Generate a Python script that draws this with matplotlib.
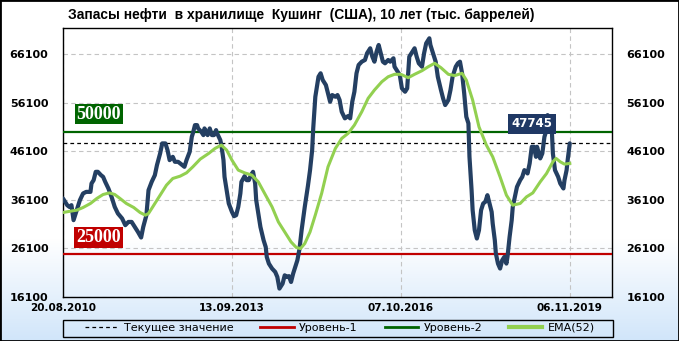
import numpy as np
import matplotlib
matplotlib.use("Agg")
import matplotlib.pyplot as plt
from matplotlib.lines import Line2D
from matplotlib.patches import Rectangle

# ---------------- data ----------------
title = "Запасы нефти  в хранилище  Кушинг  (США), 10 лет (тыс. баррелей)"
tick_weeks = [0, 160, 320, 480]
tick_dates = ["20.08.2010", "13.09.2013", "07.10.2016", "06.11.2019"]
y_ticks = [16100, 26100, 36100, 46100, 56100, 66100]

oil_weeks = [0,4,6,8,10,13,16,19,22,26,27,29,31,33,36,38,40,43,46,49,52,56,59,62,65,68,71,74,76,79,
             81,84,87,89,92,94,97,99,101,104,106,109,111,115,117,120,122,123,125,127,128,131,133,134,137,139,
             141,143,145,146,149,150,152,153,155,157,160,162,164,166,168,169,172,174,176,178,180,182,183,185,
             187,190,192,193,195,198,201,203,205,208,210,212,214,216,218,220,222,224,226,229,232,234,236,237,
             239,242,244,246,249,251,253,255,258,260,262,264,267,270,272,274,276,278,280,283,286,288,291,293,
             295,297,299,301,303,305,308,310,313,314,317,319,321,324,326,328,331,333,335,337,340,342,344,347,
             348,351,353,355,358,360,362,365,367,369,372,374,376,378,380,382,384,385,387,388,390,392,394,396,
             398,400,402,404,406,407,409,410,412,414,416,418,420,421,423,425,426,428,430,433,435,437,439,440,
             442,444,446,448,449,452,454,456,458,459,461,463,464,466,469,471,474,475,477,478,480]
oil_values = [36390,35010,34660,35010,31920,33980,36040,37420,37750,37750,39480,40160,41880,41880,41190,40840,
              39810,38450,36720,34660,33300,32270,30890,31560,31560,30530,29500,28350,30530,32950,
              38100,39810,41190,43260,45670,47730,47730,46350,44290,44970,43940,43940,43610,42910,44290,46000,
              49090,49790,51500,51500,50820,50120,49440,50820,49440,50820,
              49440,49440,50470,49800,48410,47380,44290,40840,38100,35360,33630,32740,32950,34660,37420,39810,
              40990,40160,40160,41190,41880,39480,36040,33300,
              30530,27790,26410,24350,22980,21960,21260,20230,17830,18860,20570,20230,20400,19190,20930,22290,
              23670,26000,29850,34660,39000,42230,46350,50800,
              57340,61460,62170,60780,59750,58040,56310,57690,57340,57690,56660,54250,52890,53360,52890,56310,
              58370,62170,63880,64560,64910,66290,67320,65590,
              64560,66620,68000,66290,64560,64230,64910,64560,65260,63530,62500,61810,59070,58370,59070,65590,
              66620,67320,65590,64230,63530,66290,68350,69380,
              68000,65940,64560,61460,58720,57010,55630,56660,58720,61460,63530,64230,64560,62170,58040,53220,
              51850,44970,38100,33980,29850,28140,29850,33980,
              35360,35690,37070,35360,33630,31230,27790,25050,22980,21960,23670,24350,22980,24350,28470,31920,
              34660,36720,38780,40160,40840,42230,41880,41540,
              43610,47030,47030,44970,47030,44640,45670,49090,50470,53560,53000,50470,45670,42230,40840,39480,
              38450,40160,42230,44290,47745]

ema_weeks = [0,7,13,19,26,32,38,44,49,54,60,67,73,78,81,85,92,98,104,111,117,123,130,138,144,150,155,160,
             166,172,179,185,191,198,204,210,216,221,225,229,234,239,245,251,258,264,270,276,283,289,295,302,
             308,314,320,327,333,340,346,352,358,365,371,378,382,388,394,401,407,414,420,426,433,439,445,452,
             458,464,467,471,475,480]
ema_values = [33500,33770,33980,34530,35360,36390,37210,37540,37210,36390,35360,34530,33500,32950,33300,34660,
              37070,39130,40510,40990,41670,42910,44500,45670,46700,47380,46350,44290,
              42230,41670,41190,39810,37420,34660,31560,29500,27440,26290,26080,27110,29500,33000,37450,42900,
              46700,48760,49790,51500,54250,57010,58720,60430,
              61460,61960,61960,61260,61960,62700,63530,64230,63320,61960,61700,62170,60780,56660,51150,47380,
              44970,40840,37070,35010,35360,36720,37540,39810,
              41540,43940,44640,43940,43460,43610]

current_value = 47745
level_1 = 25000
level_2 = 50000

# ---------------- figure ----------------
W, H = 679, 341
fig = plt.figure(figsize=(W / 100, H / 100), dpi=100)

# background gradient
bg = fig.add_axes([0, 0, 1, 1], zorder=-10)
rows = np.linspace(0, 1, H)
t = np.clip((rows - 0.70) / 0.30, 0, 1)[:, None]
top = np.array([1.0, 1.0, 1.0])
bot = np.array([0.82, 0.90, 0.98])
img = top[None, :] * (1 - t) + bot[None, :] * t
img = np.repeat(img[:, None, :], 4, axis=1)
bg.imshow(img, aspect="auto", extent=[0, 1, 0, 1], origin="upper")
bg.set_axis_off()

L, R, B, T = 63, 612, 297, 27.5
ax = fig.add_axes([L / W, 1 - B / H, (R - L) / W, (B - T) / H])
ax.set_facecolor("none")

ax.set_xlim(0, 520)
ax.set_ylim(16100, 71600)

ax.set_yticks(y_ticks)
ax.set_yticklabels([str(v) for v in y_ticks])
ax.set_xticks(tick_weeks)
ax.set_xticklabels(tick_dates)
ax.grid(True, color="#c4c4c4", linestyle=(0, (4, 3)), linewidth=0.8)
ax.set_axisbelow(True)

ax.tick_params(axis="y", left=False, right=False, labelleft=True, labelright=True,
               pad=7, labelsize=8)
ax.tick_params(axis="x", length=0, pad=4, labelsize=7.5)
for lab in ax.get_yticklabels() + ax.get_xticklabels():
    lab.set_fontweight("bold")
for sp in ax.spines.values():
    sp.set_color("black")
    sp.set_linewidth(1.0)

ax.axhline(level_1, color="#c00000", lw=1.6, zorder=3)
ax.axhline(level_2, color="#006400", lw=1.6, zorder=3)
ax.axhline(current_value, color="black", lw=0.9, ls=(0, (3, 2.5)), zorder=3)

ax.plot(oil_weeks, oil_values, color="#243f62", lw=3.0, solid_joinstyle="round",
        solid_capstyle="round", zorder=4)
ax.plot(ema_weeks, ema_values, color="#92d050", lw=2.2, solid_joinstyle="round", zorder=5)

# level boxes
ax.text(34, 53770, f"{level_2}", color="white", fontsize=13, fontweight="bold",
        family="Liberation Serif", ha="center", va="center", zorder=6,
        bbox=dict(boxstyle="square,pad=0.1", fc="#006400", ec="none"))
ax.text(33.6, 28310, f"{level_1}", color="white", fontsize=13, fontweight="bold",
        family="Liberation Serif", ha="center", va="center", zorder=6,
        bbox=dict(boxstyle="square,pad=0.1", fc="#c00000", ec="none"))
ax.text(444, 51810, f"{current_value}", color="white", fontsize=8.5, fontweight="bold",
        ha="center", va="center", zorder=6,
        bbox=dict(boxstyle="square,pad=0.3", fc="#1f3864", ec="none"))

fig.text(68 / W, 1 - 14.5 / H, title, fontsize=9.9, fontweight="bold",
         family="Liberation Sans", ha="left", va="center")

handles = [
    Line2D([], [], color="black", lw=0.9, ls=(0, (3, 2.5))),
    Line2D([], [], color="#c00000", lw=2),
    Line2D([], [], color="#006400", lw=2),
    Line2D([], [], color="#92d050", lw=3),
]
labels = ["Текущее значение", "Уровень-1", "Уровень-2", "EMA(52)"]
leg = fig.legend(handles, labels, loc="center", bbox_to_anchor=(340 / W, 1 - 328 / H),
                 ncol=4, fontsize=8, frameon=False,
                 columnspacing=2.4, handlelength=3.0, handletextpad=0.5, borderpad=0.0)
# legend frame
fig.patches.append(Rectangle((63 / W, 1 - 336.5 / H), 550 / W, 16.5 / H,
                             transform=fig.transFigure, fill=False, ec="black", lw=1.0,
                             zorder=15))

fig.patches.append(Rectangle((0, 0), 1, 1, transform=fig.transFigure, fill=False,
                             ec="black", lw=2, zorder=20))

fig.savefig("out.png", dpi=100)
